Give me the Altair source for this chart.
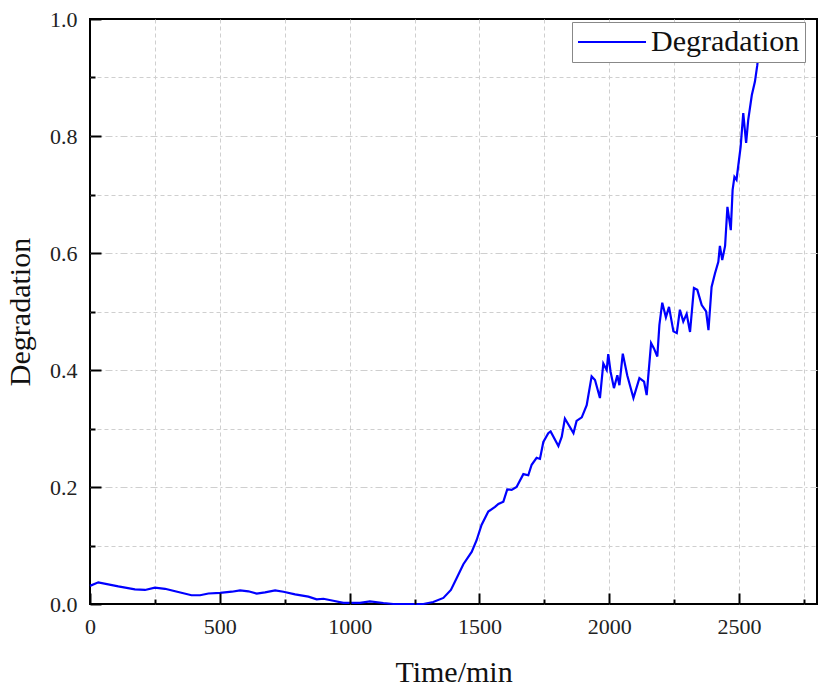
import altair as alt
import pandas as pd

# ---- data ----
time_min = [0, 32, 109, 173, 212, 250, 289, 340, 391, 424, 456, 501, 546, 578, 610, 642,
            674, 713, 745, 790, 841, 873, 899, 937, 976, 1001, 1040, 1078, 1130, 1168,
            1284, 1322, 1361, 1390, 1412, 1438, 1470, 1489, 1508, 1534, 1560, 1573, 1592,
            1607, 1624, 1643, 1669, 1688, 1701, 1720, 1733, 1746, 1765, 1774, 1804, 1817,
            1829, 1862, 1874, 1894, 1913, 1932, 1945, 1964, 1977, 1990, 1996, 2005, 2018,
            2031, 2039, 2052, 2069, 2093, 2116, 2134, 2144, 2161, 2172, 2185, 2193, 2204,
            2218, 2230, 2247, 2260, 2272, 2285, 2298, 2311, 2326, 2339, 2356, 2373, 2382,
            2394, 2407, 2420, 2426, 2435, 2446, 2455, 2468, 2475, 2482, 2490, 2497, 2506,
            2516, 2527, 2535, 2549, 2561, 2570, 2580]
degradation = [0.031, 0.037, 0.030, 0.025, 0.024, 0.028, 0.026, 0.0205, 0.015, 0.015, 0.018,
               0.019, 0.021, 0.0234, 0.0217, 0.0177, 0.020, 0.0234, 0.021, 0.0165, 0.0125,
               0.008, 0.009, 0.0056, 0.002, 0.002, 0.002, 0.0046, 0.0017, 0.0,
               0.0, 0.0034, 0.0104, 0.024, 0.044, 0.068, 0.089, 0.109, 0.135, 0.158, 0.166,
               0.171, 0.175, 0.196, 0.195, 0.200, 0.222, 0.220, 0.238, 0.250, 0.248, 0.277,
               0.292, 0.295, 0.270, 0.286, 0.317, 0.292, 0.313, 0.319, 0.340, 0.389, 0.383,
               0.352, 0.411, 0.400, 0.427, 0.397, 0.369, 0.391, 0.374, 0.428, 0.391, 0.352,
               0.386, 0.380, 0.357, 0.446, 0.437, 0.423, 0.477, 0.515, 0.490, 0.508, 0.466,
               0.463, 0.503, 0.483, 0.496, 0.465, 0.540, 0.537, 0.511, 0.500, 0.468, 0.542,
               0.565, 0.585, 0.612, 0.588, 0.612, 0.679, 0.639, 0.708, 0.730, 0.725, 0.750,
               0.782, 0.839, 0.788, 0.827, 0.870, 0.893, 0.921, 0.960]
series_name = "Degradation"
x_major = [0, 500, 1000, 1500, 2000, 2500]
x_minor = [250, 750, 1250, 1750, 2250, 2750]
x_grid = [250, 500, 750, 1000, 1250, 1500, 1750, 2000, 2250, 2500, 2750]
y_major = [0.0, 0.2, 0.4, 0.6, 0.8, 1.0]
y_major_grid = [0.2, 0.4, 0.6, 0.8]
y_minor = [0.1, 0.3, 0.5, 0.7, 0.9]

df = pd.DataFrame({"t": time_min, "d": degradation, "s": series_name})

FONT = "Liberation Serif"
xs = alt.Scale(domain=[0, 2800], nice=False, zero=False)
ys = alt.Scale(domain=[0, 1], nice=False)
base = alt.Chart(df)

# main line with labelled axes
line = base.mark_line(color="#0000ff", strokeWidth=2.2).encode(
    x=alt.X("t:Q", scale=xs, axis=alt.Axis(
        values=x_major, title="Time/min", grid=False, ticks=False, domain=False,
        format="d", labelFontSize=22, labelFont=FONT, labelColor="#222222",
        labelFlush=False, labelPadding=12, titleFont=FONT, titleFontSize=30,
        titleFontWeight="normal", titleColor="#111111", titlePadding=20, orient="bottom")),
    y=alt.Y("d:Q", scale=ys, axis=alt.Axis(
        values=y_major, title="Degradation", format=".1f", grid=False,
        ticks=False, domain=False, labelFlush=False,
        labelFontSize=22, labelFont=FONT, labelColor="#222222", labelPadding=13,
        titleFont=FONT, titleFontSize=30, titleFontWeight="normal", titleColor="#111111",
        titlePadding=14, orient="left")),
    color=alt.Color("s:N", scale=alt.Scale(range=["#0000ff"]), legend=alt.Legend(
        title=None, orient="none", legendX=482, legendY=3, strokeColor="#888888",
        fillColor="white", padding=5, symbolType="M-3,0H3", symbolSize=514,
        symbolOffset=20, symbolStrokeWidth=2.2, symbolStrokeColor="#0000ff",
        labelFont=FONT, labelFontSize=30, labelColor="#111111", labelOffset=24)),
)

# grids
grid_layer = base.mark_line(strokeOpacity=0).encode(
    x=alt.X("t:Q", scale=xs, axis=alt.Axis(
        values=x_grid, title=None, labels=False, ticks=False, domain=False, grid=True,
        gridColor="#cfcfcf", gridDash=[4, 3], gridWidth=1, orient="bottom")),
    y=alt.Y("d:Q", scale=ys, axis=alt.Axis(
        values=y_minor, title=None, labels=False, ticks=False, domain=False, grid=True,
        gridColor="#cfcfcf", gridDash=[4, 3], gridWidth=1, orient="left")),
)
grid_major_y = base.mark_line(strokeOpacity=0).encode(
    x=alt.X("t:Q", scale=xs, axis=None),
    y=alt.Y("d:Q", scale=ys, axis=alt.Axis(
        values=y_major_grid, title=None, labels=False, ticks=False, domain=False,
        grid=True, gridColor="#cfcfcf", gridDash=[7, 3, 2, 3], gridWidth=1,
        orient="left")),
)

# inward major ticks
major_ticks = base.mark_line(strokeOpacity=0).encode(
    x=alt.X("t:Q", scale=xs, axis=alt.Axis(
        values=x_major, title=None, labels=False, domain=False, grid=False,
        ticks=True, tickSize=11, tickWidth=2, tickColor="black", offset=-11,
        orient="bottom", zindex=2)),
    y=alt.Y("d:Q", scale=ys, axis=alt.Axis(
        values=y_major, title=None, labels=False, domain=False, grid=False,
        ticks=True, tickSize=11, tickWidth=2, tickColor="black", offset=-11,
        orient="left", zindex=2)),
)

# inward minor ticks
minor_ticks = base.mark_line(strokeOpacity=0).encode(
    x=alt.X("t:Q", scale=xs, axis=alt.Axis(
        values=x_minor, title=None, labels=False, domain=False, grid=False,
        ticks=True, tickSize=5, tickWidth=2, tickColor="black", offset=-5,
        orient="bottom", zindex=2)),
    y=alt.Y("d:Q", scale=ys, axis=alt.Axis(
        values=y_minor, title=None, labels=False, domain=False, grid=False,
        ticks=True, tickSize=5, tickWidth=2, tickColor="black", offset=-5,
        orient="left", zindex=2)),
)

chart = alt.layer(grid_layer, grid_major_y, line, major_ticks, minor_ticks).resolve_axis(
    x="independent", y="independent"
).properties(
    width=727, height=585,
    autosize=alt.AutoSizeParams(type="none"),
    padding={"left": 90, "top": 19, "right": 6, "bottom": 89},
    background="white",
).configure_view(
    stroke="black", strokeWidth=2
).configure_axis(
    labelFont=FONT, titleFont=FONT
).configure_legend(
    labelFont=FONT
)

chart.save("out.html", embed_options={"renderer": "svg", "actions": False})
